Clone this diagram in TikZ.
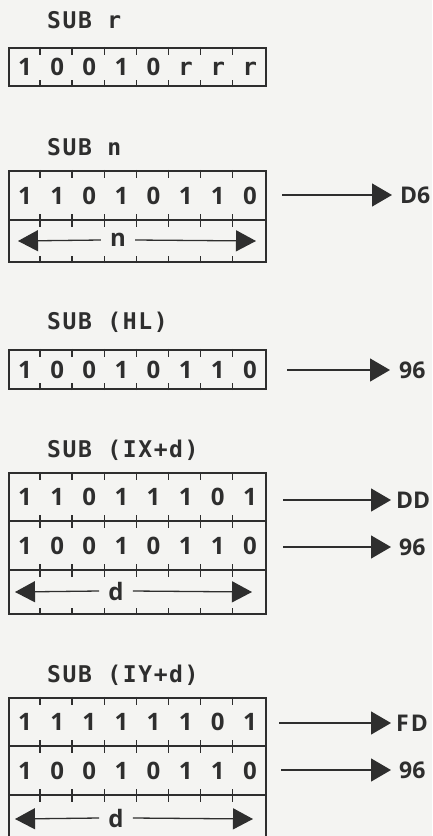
\documentclass[tikz,border=0pt]{standalone}
\usepackage{fontspec}
\usetikzlibrary{arrows.meta,calc}
\newfontfamily\titlefont[LetterSpace=7]{DejaVu Sans Mono}
\newfontfamily\digitfont{Open Sans}
\newfontfamily\rfont{DejaVu Sans Mono}
\definecolor{ink}{HTML}{2E2E2E}
\definecolor{paper}{HTML}{F4F4F2}
\newcommand\cellbox[1]{\makebox[32.125pt]{#1}}
\newcommand\bitrow[8]{\cellbox{#1}\cellbox{#2}\cellbox{#3}\cellbox{#4}\cellbox{#5}\cellbox{#6}\cellbox{#7}\cellbox{#8}}
\tikzset{
  title/.style={anchor=west,inner sep=0pt,text=ink,font=\titlefont\bfseries\fontsize{23}{23}\selectfont},
  regrow/.style={draw=ink,line width=2.4pt,minimum width=257pt,inner sep=0pt,text=ink,
     font=\digitfont\bfseries\fontsize{24}{24}\selectfont},
  tick/.style={draw=ink,line width=1.3pt},
  flow/.style={draw=ink,line width=1.3pt,-{Triangle[length=20pt,width=23pt]}},
  span/.style={draw=ink,line width=1.3pt,-{Triangle[length=20pt,width=21pt]}},
  hexlab/.style={anchor=west,inner sep=0pt,text=ink,font=\digitfont\bfseries\fontsize{23}{23}\selectfont},
  spanlab/.style={inner xsep=9pt,inner ysep=0pt,text=ink,font=\digitfont\bfseries\fontsize{24}{24}\selectfont}
}
\newcommand\ticks[1]{%
  \foreach \k in {1,...,7}{%
    \draw[tick] ($(#1.north west)+(\k*32.125,0)$) -- ++(0,8);
    \draw[tick] ($(#1.south west)+(\k*32.125,0)$) -- ++(0,-7);
  }}
\begin{document}
\begin{tikzpicture}[x=1pt,y=-1pt]
\fill[paper] (0,0) rectangle (432,836);
\useasboundingbox (0,0) rectangle (432,836);
\clip (0,0) rectangle (432,836);

% SUB r
\node[title] (tr) at (47,20) {SUB r};
\node[regrow,minimum height=38pt] (a1) at (137.5,67) {\bitrow{1}{0}{0}{1}{0}{\rfont r}{\rfont r}{\rfont r}};
\ticks{a1}

% SUB n
\node[title] (tn) at (47,147) {SUB n};
\node[regrow,minimum height=49pt] (b1) at (137.5,195.5) {\bitrow{1}{1}{0}{1}{0}{1}{1}{0}};
\node[regrow,minimum height=42pt] (b2) at (137.5,241) {};
\ticks{b1}\ticks{b2}
\node[spanlab] (bn) at (118,240) {n};
\coordinate (bl) at (18,241);
\coordinate (br) at (256,241);
\draw[span] (bn.west) -- (bl);
\draw[span] (bn.east) -- (br);
\coordinate (bs) at (282,195);
\node[hexlab] (bh) at (400,195) {D6};
\draw[flow] (bs) -- ([xshift=-8pt]bh.west);

% SUB (HL)
\node[title] (thl) at (47,322) {SUB (HL)};
\node[regrow,minimum height=39pt] (c1) at (137.5,369.5) {\bitrow{1}{0}{0}{1}{0}{1}{1}{0}};
\ticks{c1}
\coordinate (cs) at (287,370);
\node[hexlab] (ch) at (399,370) {96};
\draw[flow] (cs) -- ([xshift=-9pt]ch.west);

% SUB (IX+d)
\node[title] (tix) at (47,450) {SUB (IX+d)};
\node[regrow,minimum height=48pt] (d1) at (137.5,497) {\bitrow{1}{1}{0}{1}{1}{1}{0}{1}};
\node[regrow,minimum height=49pt] (d2) at (137.5,545.5) {\bitrow{1}{0}{0}{1}{0}{1}{1}{0}};
\node[regrow,minimum height=44pt] (d3) at (137.5,592) {};
\ticks{d1}\ticks{d2}\ticks{d3}
\node[spanlab] (dd) at (116,591) {d};
\coordinate (dl) at (15,592);
\coordinate (dr) at (252,592);
\draw[span] (dd.west) -- (dl);
\draw[span] (dd.east) -- (dr);
\coordinate (ds1) at (283,500);
\node[hexlab] (dh1) at (396,500) {DD};
\draw[flow] (ds1) -- ([xshift=-5pt]dh1.west);
\coordinate (ds2) at (283,547);
\node[hexlab] (dh2) at (399,547) {96};
\draw[flow] (ds2) -- ([xshift=-8pt]dh2.west);

% SUB (IY+d)
\node[title] (tiy) at (47,675) {SUB (IY+d)};
\node[regrow,minimum height=48pt] (e1) at (137.5,722) {\bitrow{1}{1}{1}{1}{1}{1}{0}{1}};
\node[regrow,minimum height=49pt] (e2) at (137.5,770.5) {\bitrow{1}{0}{0}{1}{0}{1}{1}{0}};
\node[regrow,minimum height=48pt] (e3) at (137.5,819) {};
\ticks{e1}\ticks{e2}\ticks{e3}
\node[spanlab] (ed) at (116,818) {d};
\coordinate (el) at (15,819);
\coordinate (er) at (253,819);
\draw[span] (ed.west) -- (el);
\draw[span] (ed.east) -- (er);
\coordinate (es1) at (279,723);
\node[hexlab] (eh1) at (396,723) {F\kern2pt D};
\draw[flow] (es1) -- ([xshift=-5pt]eh1.west);
\coordinate (es2) at (281,770);
\node[hexlab] (eh2) at (399,770) {96};
\draw[flow] (es2) -- ([xshift=-8pt]eh2.west);
\end{tikzpicture}
\end{document}
